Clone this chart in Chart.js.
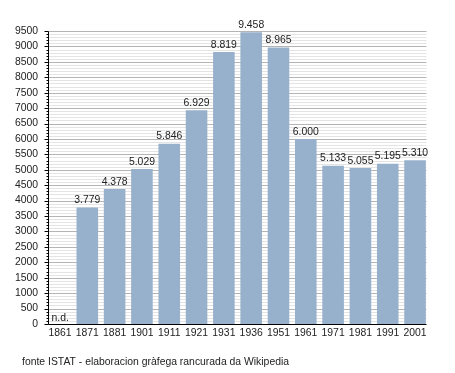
<!DOCTYPE html>
<html>
<head>
<meta charset="utf-8">
<script src="https://cdn.jsdelivr.net/npm/chart.js@4"></script>
<style>
  html, body { margin: 0; padding: 0; background: #fff; }
  #wrap { width: 455px; height: 373px; position: relative; }
</style>
</head>
<body>
<div id="wrap"><canvas id="popChart"></canvas></div>
<script>
// dati
const years = ['1861', '1871', '1881', '1901', '1911', '1921', '1931', '1936', '1951', '1961', '1971', '1981', '1991', '2001'];
const population = [null, 3779, 4378, 5029, 5846, 6929, 8819, 9458, 8965, 6000, 5133, 5055, 5195, 5310];
const yMax = 9500;
const yStep = 100;
const majorStep = 500;
const footerText = 'fonte ISTAT - elaboracion gràfega rancurada da Wikipedia';

const fontFamily = '"Liberation Sans", Arial, sans-serif';
const fontSize = 10.4;
const axisX = 48.5;   // linea dell'asse y
const gridRight = 426.5;

function fmt(v) {
    return v.toString().replace(/\B(?=(\d{3})+(?!\d))/g, '.');
}

// griglia (maggiore/minore) disegnata dietro le barre
const gridPlugin = {
    id: 'gridLines',
    beforeDatasetsDraw(chart) {
        const ctx = chart.ctx;
        const yScale = chart.scales.y;
        ctx.save();
        ctx.lineWidth = 1;
        for (let v = yStep; v <= yMax; v += yStep) {
            const y = Math.round(yScale.getPixelForValue(v)) + 0.5;
            ctx.strokeStyle = v % majorStep === 0 ? '#b4b4b4' : '#e4e4e4';
            ctx.beginPath();
            ctx.moveTo(axisX, y);
            ctx.lineTo(gridRight, y);
            ctx.stroke();
        }
        ctx.restore();
    }
};

// etichette sopra le barre + assi + tacche + nota in fondo
const extrasPlugin = {
    id: 'extras',
    afterDatasetsDraw(chart) {
        const ctx = chart.ctx;
        const meta = chart.getDatasetMeta(0);
        const yScale = chart.scales.y;
        const y0 = Math.round(yScale.getPixelForValue(0)) + 0.5;
        const yTop = Math.round(yScale.getPixelForValue(yMax)) + 0.5;
        ctx.save();
        ctx.font = fontSize + 'px ' + fontFamily;
        ctx.fillStyle = '#222';
        ctx.textAlign = 'center';
        ctx.textBaseline = 'bottom';
        population.forEach((v, i) => {
            const bar = meta.data[i];
            if (v === null) {
                ctx.textAlign = 'left';
                ctx.fillText('n.d.', axisX + 3, y0 - 1);
                ctx.textAlign = 'center';
            } else {
                ctx.fillText(fmt(v), bar.x, bar.y - 2);
            }
        });

        // assi
        ctx.strokeStyle = '#000';
        ctx.lineWidth = 1;
        ctx.beginPath();
        ctx.moveTo(axisX, yTop);
        ctx.lineTo(axisX, y0);
        ctx.lineTo(gridRight, y0);
        ctx.stroke();

        // tacche sull'asse y
        for (let v = 0; v <= yMax; v += yStep) {
            const y = Math.round(yScale.getPixelForValue(v)) + 0.5;
            const len = v % majorStep === 0 ? 4 : 2;
            ctx.beginPath();
            ctx.moveTo(axisX - len, y);
            ctx.lineTo(axisX, y);
            ctx.stroke();
        }

        ctx.textAlign = 'left';
        ctx.textBaseline = 'middle';
        ctx.fillStyle = '#222';
        ctx.fillText(footerText, 22, 362);
        ctx.restore();
    }
};

const ctx = document.getElementById('popChart').getContext('2d');
new Chart(ctx, {
    type: 'bar',
    data: {
        labels: years,
        datasets: [{
            data: population,
            backgroundColor: '#97b0cb',
            categoryPercentage: 1,
            barPercentage: 0.79
        }]
    },
    options: {
        responsive: true,
        maintainAspectRatio: false,
        animation: false,
        layout: { padding: { top: 31, right: 26.3, bottom: 33, left: 0 } },
        plugins: {
            legend: { display: false },
            tooltip: { enabled: false }
        },
        scales: {
            x: {
                grid: { display: false, drawTicks: false },
                border: { display: false },
                ticks: {
                    color: '#222',
                    font: { family: fontFamily, size: fontSize },
                    padding: 3,
                    maxRotation: 0,
                    autoSkip: false
                },
                afterFit(scale) { scale.height = 16; }
            },
            y: {
                min: 0,
                max: yMax,
                grid: { display: false, drawTicks: false },
                border: { display: false },
                ticks: {
                    stepSize: yStep,
                    autoSkip: false,
                    color: '#222',
                    font: { family: fontFamily, size: fontSize },
                    padding: 8.3,
                    callback: v => (v % majorStep === 0 ? v : '')
                },
                afterFit(scale) { scale.width = 46.35; }
            }
        }
    },
    plugins: [gridPlugin, extrasPlugin]
});
</script>
</body>
</html>
